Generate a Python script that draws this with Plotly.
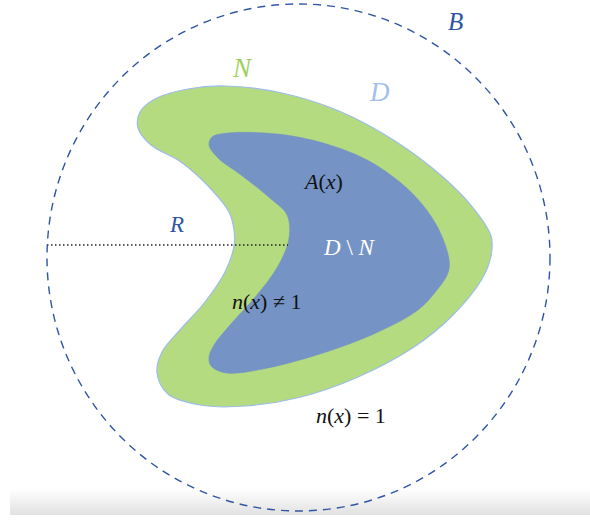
import plotly.graph_objects as go

# Outline of the domain D (outer, green: neighbourhood N) in pixel coords
outer_x = [226, 282, 339, 395, 444, 474, 491, 491, 482, 452, 414, 358, 301, 245, 200, 168, 157, 162, 180, 205, 225, 234, 234, 229, 211, 181, 151, 138, 140, 155, 188, 226]
outer_y = [86, 93, 111, 141, 178, 209, 236, 256, 279, 316, 347, 377, 397, 406, 405, 394, 373, 352, 330, 302, 272, 246, 230, 212, 189, 162, 145, 128, 112, 99, 89, 86]

# Inner region D \ N (blue)
inner_x = [286, 339, 376, 414, 437, 449, 448, 437, 418, 376, 320, 263, 226, 211, 209, 214, 230, 256, 278, 289, 287, 271, 241, 218, 209, 212, 228, 286]
inner_y = [135, 148, 165, 195, 226, 259, 273, 290, 310, 333, 354, 369, 373, 366, 357, 345, 325, 296, 266, 238, 215, 199, 175, 158, 145, 137, 133, 135]

# Radius segment R
r_x = [47, 288]
r_y = [245, 245]

labels = ["<i>B</i>", "<i>N</i>", "<i>D</i>", "<i>A</i>(<i>x</i>)", "<i>R</i>", "<i>D</i> \\ <i>N</i>", "<i>n</i>(<i>x</i>) ≠ 1", "<i>n</i>(<i>x</i>) = 1"]
label_x = [455, 242, 379, 323, 176, 349, 267, 351]
label_y = [21, 68, 92, 181, 224, 247, 301, 415]
label_size = [25, 27, 27, 22, 23, 23, 22, 22]
label_col = ["#2f55a4", "#9fd05c", "#a3c0ea", "#111111", "#2f55a4", "#ffffff", "#111111", "#111111"]

fig = go.Figure()

fig.add_trace(go.Scatter(x=outer_x, y=outer_y, mode="lines", fill="toself",
                         fillcolor="#b4db7f", line=dict(color="#9dbde9", width=1.2, shape="spline", smoothing=1.0),
                         hoverinfo="skip"))
fig.add_trace(go.Scatter(x=inner_x, y=inner_y, mode="lines", fill="toself",
                         fillcolor="#7593c4", line=dict(color="#7593c4", width=0.5, shape="spline", smoothing=1.0),
                         hoverinfo="skip"))
fig.add_trace(go.Scatter(x=r_x, y=r_y, mode="lines",
                         line=dict(color="#222222", width=1.6, dash="1.5px,2.5px"), hoverinfo="skip"))

shapes = []
# bottom grey gradient band
top, bot = 489, 515
n = bot - top
for i in range(n):
    g = int(255 - (255 - 226) * (i / (n - 1)))
    shapes.append(dict(type="rect", xref="x", yref="y", x0=10, x1=590, y0=top + i, y1=top + i + 1,
                       fillcolor=f"rgb({g},{g},{g})", line=dict(width=0), layer="below"))
# boundary circle B
shapes.append(dict(type="circle", xref="x", yref="y", x0=47, x1=550, y0=4, y1=511,
                   line=dict(color="#2f55a4", width=1.4, dash="8px,6px")))

annotations = [dict(x=x, y=y, text=t, showarrow=False, xref="x", yref="y",
                    font=dict(family="Liberation Serif", size=s, color=c))
               for t, x, y, s, c in zip(labels, label_x, label_y, label_size, label_col)]

fig.update_layout(width=590, height=520, margin=dict(l=0, r=0, t=0, b=0),
                  paper_bgcolor="white", plot_bgcolor="white", showlegend=False,
                  shapes=shapes, annotations=annotations,
                  xaxis=dict(range=[0, 590], visible=False, fixedrange=True),
                  yaxis=dict(range=[520, 0], visible=False, fixedrange=True))

fig.write_html("out.html", config={"displayModeBar": False},
               post_script="document.body.style.margin='0';document.body.style.overflow='hidden';")
